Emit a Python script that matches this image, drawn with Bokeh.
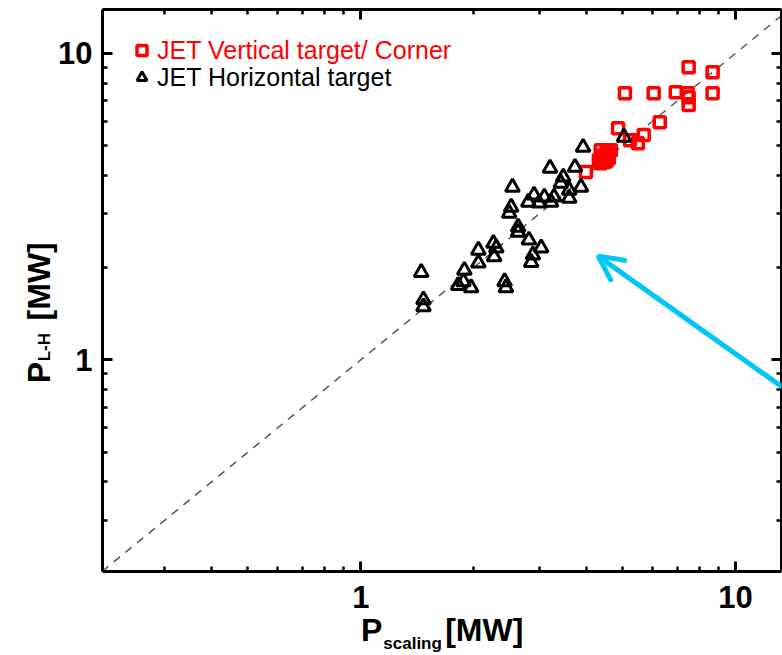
from bokeh.plotting import figure
from bokeh.models import (LogAxis, FixedTicker, PrintfTickFormatter, CustomJSTickFormatter,
                          Arrow, OpenHead, Legend, LegendItem, Range1d)
from bokeh.embed import file_html
from bokeh.resources import INLINE
import math

# ---------------- data ----------------
# JET vertical target / corner (red squares)
vt_x = [7.50, 8.69, 5.07, 6.05, 6.93, 7.45, 8.69, 7.50, 7.50, 6.28, 4.86, 5.69, 5.49, 5.23, 3.99,
        4.37, 4.46, 4.54, 4.59, 4.48, 4.37, 4.65, 4.32, 4.40, 4.52, 4.58]
vt_y = [9.00, 8.67, 7.41, 7.41, 7.46, 7.41, 7.41, 7.19, 6.78, 5.96, 5.70, 5.41, 5.09, 5.21, 4.10,
        4.83, 4.66, 4.76, 4.55, 4.42, 4.38, 4.83, 4.48, 4.60, 4.45, 4.70]
# JET horizontal target (black triangles)
ht_x = [3.92, 3.20, 3.73, 3.47, 3.42, 2.54, 3.87, 3.60, 2.90, 3.09, 3.28, 2.80, 2.99, 3.22, 3.60,
        2.52, 2.49, 2.63, 2.63, 2.81, 3.03, 2.26, 2.30, 2.06, 2.27, 2.88, 2.85, 2.06, 1.89, 1.45,
        1.88, 1.82, 1.97, 2.42, 2.44, 1.47, 1.47, 5.04]
ht_y = [4.94, 4.22, 4.25, 3.95, 3.77, 3.66, 3.66, 3.58, 3.45, 3.40, 3.40, 3.27, 3.25, 3.27, 3.37,
        3.15, 3.01, 2.71, 2.61, 2.46, 2.32, 2.40, 2.32, 2.28, 2.17, 2.20, 2.08, 2.07, 1.96, 1.93,
        1.80, 1.75, 1.72, 1.80, 1.72, 1.57, 1.49, 5.33]
# identity line y = x
diag = [0.1, 20.0]
# annotation arrow (data coords)
arrow_start = (13.3, 0.817)
arrow_end = (4.30, 2.18)

major_ticks = [1, 10]
minor_ticks = [0.3, 0.4, 0.5, 0.6, 0.7, 0.8, 0.9, 2, 3, 4, 5, 6, 7, 8, 9]
legend_labels = ["JET Vertical target/ Corner", "JET Horizontal target"]

# axis-title pieces (text, anchor position along the axis)
x_title_main = ["P", "[MW]"]
x_title_main_pos = [1.070, 2.136]
x_title_sub = ["scaling"]
x_title_sub_pos = [1.375]
y_title_main = ["P", "[MW]"]
y_title_main_pos = [0.985, 2.42]
y_title_sub = ["L-H"]
y_title_sub_pos = [1.224]

FONT = "Liberation Sans"
CYAN = "#00C6F6"

p = figure(width=782, height=655, x_axis_type="log", y_axis_type="log",
           x_range=Range1d(0.2045, 13.27), y_range=Range1d(0.204, 13.9),
           output_backend="svg", toolbar_location=None,
           min_border_left=100, min_border_right=1, min_border_top=9, min_border_bottom=83)
p.grid.visible = False
p.outline_line_color = None
p.background_fill_color = "white"
p.border_fill_color = "white"


def style_axis(ax, labels=True):
    ax.ticker = FixedTicker(ticks=major_ticks, minor_ticks=minor_ticks)
    ax.axis_line_width = 3
    ax.axis_line_color = "black"
    ax.major_tick_in = 10
    ax.major_tick_out = 0
    ax.minor_tick_in = 5
    ax.minor_tick_out = 0
    ax.major_tick_line_width = 3
    ax.minor_tick_line_width = 2.5
    ax.major_label_text_font = FONT
    ax.major_label_text_font_style = "bold"
    ax.major_label_text_color = "black"
    if labels:
        ax.formatter = PrintfTickFormatter(format="%d")
        ax.major_label_text_font_size = "31px"
    else:
        ax.formatter = CustomJSTickFormatter(code="return '';")
        ax.major_label_text_font_size = "1px"
        ax.major_label_standoff = 0


def title_axis(ax, texts, pos, size, standoff, angle=None):
    ax.ticker = FixedTicker(ticks=pos, minor_ticks=[])
    ax.formatter = CustomJSTickFormatter(args=dict(labels=texts), code="return labels[index];")
    ax.axis_line_color = None
    ax.major_tick_line_color = None
    ax.minor_tick_line_color = None
    ax.major_tick_in = 0
    ax.major_tick_out = 0
    ax.minor_tick_in = 0
    ax.minor_tick_out = 0
    ax.major_label_text_font = FONT
    ax.major_label_text_font_style = "bold"
    ax.major_label_text_font_size = size
    ax.major_label_text_color = "black"
    ax.major_label_standoff = standoff
    if angle is not None:
        ax.major_label_orientation = angle


# main axes
style_axis(p.xaxis[0])
p.xaxis[0].major_label_standoff = 14
style_axis(p.yaxis[0])
p.yaxis[0].major_label_standoff = 10

top = LogAxis()
style_axis(top, labels=False)
p.add_layout(top, "above")
right = LogAxis()
style_axis(right, labels=False)
p.add_layout(right, "right")

# axis titles built from label-only axes (main text + subscript)
xc = LogAxis()
title_axis(xc, x_title_sub, x_title_sub_pos, "17px", 23)
p.add_layout(xc, "below")
xb = LogAxis()
title_axis(xb, x_title_main, x_title_main_pos, "32px", -44)
p.add_layout(xb, "below")
# spacer axis that gives back the room the titles overhang
xd = LogAxis()
style_axis(xd, labels=False)
xd.axis_line_color = None
xd.major_tick_line_color = None
xd.minor_tick_line_color = None
xd.major_label_standoff = -12
p.add_layout(xd, "below")

yc = LogAxis()
title_axis(yc, y_title_sub, y_title_sub_pos, "17px", 11, math.pi / 2)
p.add_layout(yc, "left")
yb = LogAxis()
title_axis(yb, y_title_main, y_title_main_pos, "32px", -17, math.pi / 2)
p.add_layout(yb, "left")

# identity line
p.line(diag, diag, line_color="#555555", line_width=1.5, line_dash="8 7")

r_sq = p.scatter(vt_x, vt_y, marker="square", size=11, line_color="red",
                 line_width=3.5, fill_color=None)
r_tr = p.scatter(ht_x, ht_y, marker="triangle", size=14, line_color="black",
                 line_width=3, fill_color=None)

for lab, rend, col, loc in [(legend_labels[0], r_sq, "red", (27, 506)),
                            (legend_labels[1], r_tr, "black", (27, 479))]:
    leg = Legend(items=[LegendItem(label=lab, renderers=[rend])], location=loc,
                 border_line_color=None, background_fill_alpha=0, padding=0, margin=0,
                 glyph_width=25, glyph_height=30, label_height=30, label_standoff=3,
                 label_text_font=FONT, label_text_font_size="25px", label_text_color=col)
    p.add_layout(leg)

# arrow
p.add_layout(Arrow(end=OpenHead(size=24, line_width=5, line_color=CYAN, line_cap="round"),
                   x_start=arrow_start[0], y_start=arrow_start[1],
                   x_end=arrow_end[0], y_end=arrow_end[1],
                   line_color=CYAN, line_width=5, line_cap="round"))

open("out.html", "w").write(file_html(p, INLINE))
